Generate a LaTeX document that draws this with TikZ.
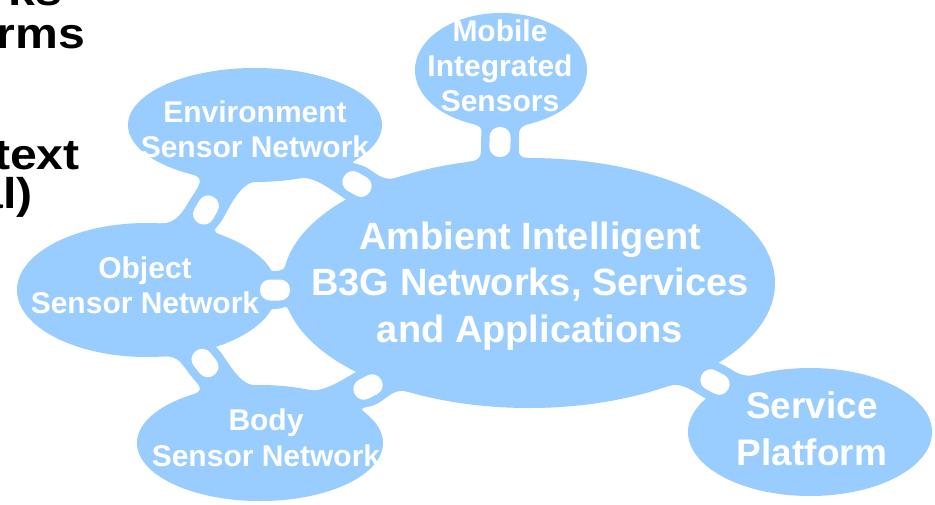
\documentclass[tikz,border=0pt]{standalone}
\usepackage{fontspec}
\setmainfont{Liberation Sans}
\newfontfamily\slidefont{Liberation Sans}[FakeStretch=1.12]
\usetikzlibrary{calc}
\definecolor{blob}{RGB}{153,204,255}
\tikzset{
  lbl/.style={text=white, inner sep=0pt, anchor=base},
  small/.style={font=\fontsize{30}{35}\selectfont\bfseries},
  big/.style={font=\fontsize{38}{46}\selectfont\bfseries},
  slide/.style={text=black, inner sep=0pt, anchor=base east, font=\slidefont\fontsize{43}{50}\selectfont\bfseries},
  pill/.style={fill=white, draw=none, rounded corners=10pt, minimum width=30pt, minimum height=21pt, inner sep=0pt},
}
% radii of the ellipses
\def\rxmain{246}\def\rymain{125}
\def\rxenv{127}\def\ryenv{57}
\def\rxmob{86}\def\rymob{57}
\def\rxobj{130}\def\ryobj{67}
\def\rxbody{123}\def\rybody{58}
\def\rxserv{122}\def\ryserv{64}
% #1 ellipse A, #2 ellipse B, #3 pill coordinate, #4 #5 angles on A (side 1, side 2), #6 #7 angles on B (side 1, side 2)
\newcommand{\bridge}[7]{%
  \edef\rxA{\csname rx#1\endcsname}\edef\ryA{\csname ry#1\endcsname}%
  \edef\rxB{\csname rx#2\endcsname}\edef\ryB{\csname ry#2\endcsname}%
  \pgfmathsetmacro\sA{3*sign(#5-#4)}%
  \pgfmathsetmacro\sB{3*sign(#7-#6)}%
  \coordinate (#3-ea1) at ($(#1)+(#4:{\rxA} and {\ryA})$);
  \coordinate (#3-ea1n) at ($(#1)+({#4+\sA}:{\rxA} and {\ryA})$);
  \coordinate (#3-ea2) at ($(#1)+(#5:{\rxA} and {\ryA})$);
  \coordinate (#3-ea2n) at ($(#1)+({#5-\sA}:{\rxA} and {\ryA})$);
  \coordinate (#3-eb1) at ($(#2)+(#6:{\rxB} and {\ryB})$);
  \coordinate (#3-eb1n) at ($(#2)+({#6+\sB}:{\rxB} and {\ryB})$);
  \coordinate (#3-eb2) at ($(#2)+(#7:{\rxB} and {\ryB})$);
  \coordinate (#3-eb2n) at ($(#2)+({#7-\sB}:{\rxB} and {\ryB})$);
  \coordinate (#3-ca1) at ($(#3-ea1)!15pt!(#3-ea1n)$);
  \coordinate (#3-ca2) at ($(#3-ea2)!15pt!(#3-ea2n)$);
  \coordinate (#3-cb1) at ($(#3-eb1)!15pt!(#3-eb1n)$);
  \coordinate (#3-cb2) at ($(#3-eb2)!15pt!(#3-eb2n)$);
  \coordinate (#3-a) at ($(#3)!12pt!(#1)$);
  \coordinate (#3-b) at ($(#3)!-12pt!(#1)$);
  \coordinate (#3-n1) at ($(#3)!19pt!-90:(#1)$);
  \coordinate (#3-n2) at ($(#3)!19pt!90:(#1)$);
  \coordinate (#3-pa1) at ($(#3-a)!19pt!-90:(#1)$);
  \coordinate (#3-pa2) at ($(#3-a)!19pt!90:(#1)$);
  \coordinate (#3-pb1) at ($(#3-b)!19pt!-90:(#1)$);
  \coordinate (#3-pb2) at ($(#3-b)!19pt!90:(#1)$);
  \fill[blob] (#3-ea1) .. controls (#3-ca1) and (#3-pa1) .. (#3-n1)
     .. controls (#3-pb1) and (#3-cb1) .. (#3-eb1) -- (#2) -- (#3-eb2)
     .. controls (#3-cb2) and (#3-pb2) .. (#3-n2)
     .. controls (#3-pa2) and (#3-ca2) .. (#3-ea2) -- (#1) -- cycle;
}
% #1 ellipse A, #2 pill coordinate
\newcommand{\pillat}[2]{%
  \pgfmathanglebetweenpoints{\pgfpointanchor{#1}{center}}{\pgfpointanchor{#2}{center}}%
  \let\pillangle\pgfmathresult
  \node[pill, rotate=\pillangle] (#2-gap) at (#2) {};
}
\begin{document}
\begin{tikzpicture}[x=1pt,y=-1pt]
\useasboundingbox (0,0) rectangle (935,504);
\clip (0,0) rectangle (935,504);
\fill[white] (0,0) rectangle (935,504);

\coordinate (main) at (529,283);
\coordinate (env) at (255,125);
\coordinate (mob) at (501,70);
\coordinate (obj) at (147,290);
\coordinate (body) at (260,443);
\coordinate (serv) at (810,432);

\coordinate (p1) at (357,184);
\coordinate (p2) at (500,142);
\coordinate (p3) at (275,290);
\coordinate (p4) at (206,210);
\coordinate (p5) at (205,363);
\coordinate (p6) at (368,387);
\coordinate (p7) at (715,382);

\fill[blob] (main) ellipse [x radius=246pt, y radius=125pt];
\fill[blob] (env) ellipse [x radius=127pt, y radius=57pt];
\fill[blob] (mob) ellipse [x radius=86pt, y radius=57pt];
\fill[blob] (obj) ellipse [x radius=130pt, y radius=67pt];
\fill[blob] (body) ellipse [x radius=123pt, y radius=58pt];
\fill[blob] (serv) ellipse [x radius=122pt, y radius=64pt];

\bridge{env}{main}{p1}{35}{69}{237.7}{219.5}
\bridge{mob}{main}{p2}{69}{111}{270.7}{255.7}
\bridge{obj}{main}{p3}{-27}{27}{194.7}{165.3}
\bridge{env}{obj}{p4}{89.7}{119.3}{-54.4}{-84}
\bridge{obj}{body}{p5}{52.8}{82.6}{267.6}{236.6}
\bridge{body}{main}{p6}{-66.2}{-29.2}{137}{119.4}
\bridge{main}{serv}{p7}{37}{55.6}{243.9}{206.3}

\pillat{env}{p1}
\pillat{mob}{p2}
\pillat{obj}{p3}
\pillat{env}{p4}
\pillat{obj}{p5}
\pillat{body}{p6}
\pillat{main}{p7}

% slide text cut by the crop
\node[slide] (s1) at (62,5) {rks};
\node[slide] (s2) at (85,48) {rms};
\node[slide] (s3) at (80,169) {text};
\node[slide] (s4) at (33,208) {al)};

% labels
\node[lbl,big] (m1) at (530,249) {Ambient Intelligent};
\node[lbl,big] (m2) at (530,295) {B3G Networks, Services};
\node[lbl,big] (m3) at (530,342) {and Applications};
\node[lbl,small] (e1) at (255,122) {Environment};
\node[lbl,small] (e2) at (255,157) {Sensor Network};
\node[lbl,small] (mo1) at (500,41) {Mobile};
\node[lbl,small] (mo2) at (500,76) {Integrated};
\node[lbl,small] (mo3) at (500,111) {Sensors};
\node[lbl,small] (o1) at (145,278) {Object};
\node[lbl,small] (o2) at (145,313) {Sensor Network};
\node[lbl,small] (b1) at (266,430) {Body};
\node[lbl,small] (b2) at (266,466) {Sensor Network};
\node[lbl,font=\fontsize{37}{46}\selectfont\bfseries] (sp1) at (812,418) {Service};
\node[lbl,font=\fontsize{37}{46}\selectfont\bfseries] (sp2) at (812,465) {Platform};
\end{tikzpicture}
\end{document}
